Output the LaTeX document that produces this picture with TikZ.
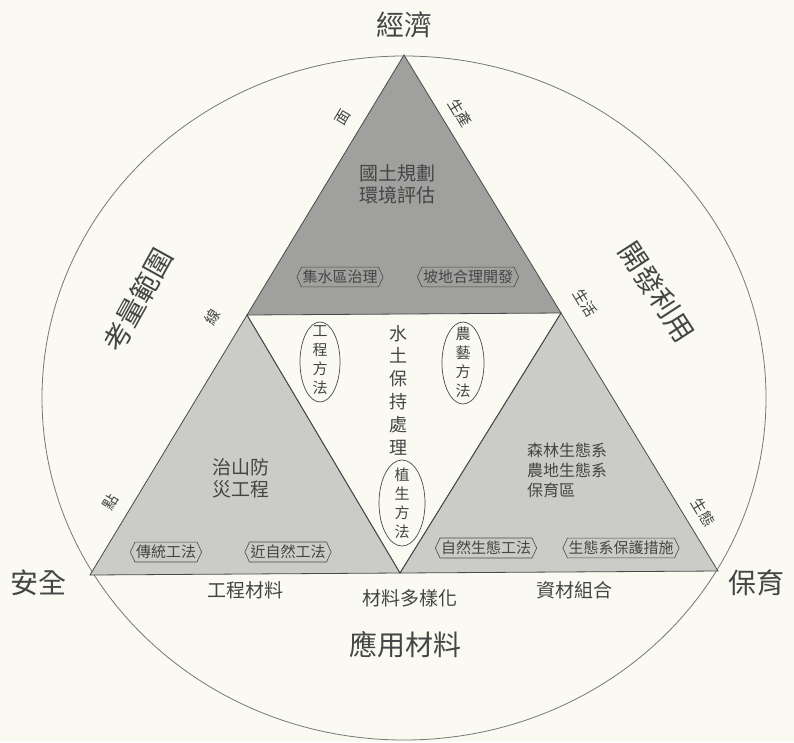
\documentclass[tikz,border=0pt]{standalone}
\usepackage{fontspec}
\setmainfont{Noto Sans CJK TC}
\usetikzlibrary{shapes.geometric,shapes.symbols}
\definecolor{bgc}{HTML}{FAFAF2}
\definecolor{darkfill}{HTML}{A0A09E}
\definecolor{lightfill}{HTML}{CBCBC8}
\definecolor{linec}{HTML}{4A4A4A}
\definecolor{txt}{HTML}{454545}
\tikzset{
  edgeline/.style={draw=linec, line width=0.8pt, line join=miter},
  bigtxt/.style={text=txt, font=\fontsize{28}{30}\selectfont, inner sep=0pt},
  midtxt/.style={text=txt, font=\fontsize{19}{21}\selectfont, inner sep=0pt},
  bodytxt/.style={text=txt, font=\fontsize{19}{22}\selectfont, inner sep=0pt, align=center},
  smalltxt/.style={text=txt, font=\fontsize{16}{20}\selectfont, inner sep=0pt, align=left},
  edgetxt/.style={text=txt, font=\fontsize{15}{17}\selectfont, inner sep=0pt},
  vertxt/.style={text=txt, font=\fontsize{15}{19}\selectfont, inner sep=0pt, align=center},
  tagbox/.style={draw=linec, line width=0.6pt, signal, signal to=west and east,
     signal pointer angle=130, text=txt, font=\fontsize{15}{17}\selectfont,
     inner xsep=1pt, inner ysep=3pt},
  ovalline/.style={draw=linec, line width=0.7pt}
}
\begin{document}
\begin{tikzpicture}[x=1pt,y=-1pt]
\fill[bgc] (0,0) rectangle (794,742);
\useasboundingbox (0,0) rectangle (794,742);
% outer circle
\draw[draw=linec!75, line width=0.8pt] (404,398) ellipse [x radius=362, y radius=342];
% triangle corners
\coordinate (A) at (404,55);
\coordinate (L) at (90,575);
\coordinate (R) at (718,571);
\coordinate (ML) at (247,315);
\coordinate (MR) at (561,313);
\coordinate (MB) at (400,573);
\filldraw[edgeline, fill=darkfill] (A) -- (ML) -- (MR) -- cycle;
\filldraw[edgeline, fill=lightfill] (ML) -- (L) -- (MB) -- cycle;
\filldraw[edgeline, fill=lightfill] (MR) -- (MB) -- (R) -- cycle;
\draw[edgeline] (ML) -- (MB) -- (MR);
% corner labels
\node[bigtxt] (econ) at (404,25) {經濟};
\node[bigtxt] (safe) at (38,583) {安全};
\node[bigtxt] (cons) at (756,583) {保育};
\node[bigtxt] (appl) at (405,645) {應用材料};
\node[bigtxt, rotate=61] (scope) at (138,300) {考量範圍};
\node[bigtxt, rotate=-57] (devuse) at (657,292) {開發利用};
% base labels
\node[midtxt] (engmat) at (245,590) {工程材料};
\node[midtxt] (divmat) at (410,598) {材料多樣化};
\node[midtxt] (matcomb) at (574,590) {資材組合};
% edge labels
\node[edgetxt, rotate=59] (mian) at (343,117) {面};
\node[edgetxt, rotate=59] (xian) at (212,317) {線};
\node[edgetxt, rotate=59] (dian) at (110,502) {點};
\node[edgetxt, rotate=-59] (prod) at (460,113) {生產};
\node[edgetxt, rotate=-59] (life) at (585,303) {生活};
\node[edgetxt, rotate=-59] (eco) at (703,512) {生態};
% top triangle
\node[bodytxt] (plan) at (397,184) {國土規劃\\環境評估};
\node[tagbox] (tag1) at (340,277) {集水區治理};
\node[tagbox] (tag2) at (468,277) {坡地合理開發};
% left triangle
\node[bodytxt] (disas) at (241,478) {治山防\\災工程};
\node[tagbox] (tag3) at (166,552) {傳統工法};
\node[tagbox] (tag4) at (288,552) {近自然工法};
% right triangle
\node[smalltxt, anchor=north west] (forest) at (527,443) {森林生態系\\農地生態系\\保育區};
\node[tagbox] (tag5) at (486,548) {自然生態工法};
\node[tagbox] (tag6) at (621,548) {生態系保護措施};
% middle
\node[text=txt, font=\fontsize{18}{22.8}\selectfont, inner sep=0pt, align=center] (swc) at (398,390) {水\\土\\保\\持\\處\\理};
\draw[ovalline] (320,362) ellipse [x radius=20, y radius=40];
\node[vertxt] (gcff) at (320,360) {工\\程\\方\\法};
\draw[ovalline] (463,363) ellipse [x radius=21, y radius=41];
\node[vertxt] (nyff) at (463,362) {農\\藝\\方\\法};
\draw[ovalline] (402,503) ellipse [x radius=23, y radius=43];
\node[vertxt] (zsff) at (402,503) {植\\生\\方\\法};
\end{tikzpicture}
\end{document}
